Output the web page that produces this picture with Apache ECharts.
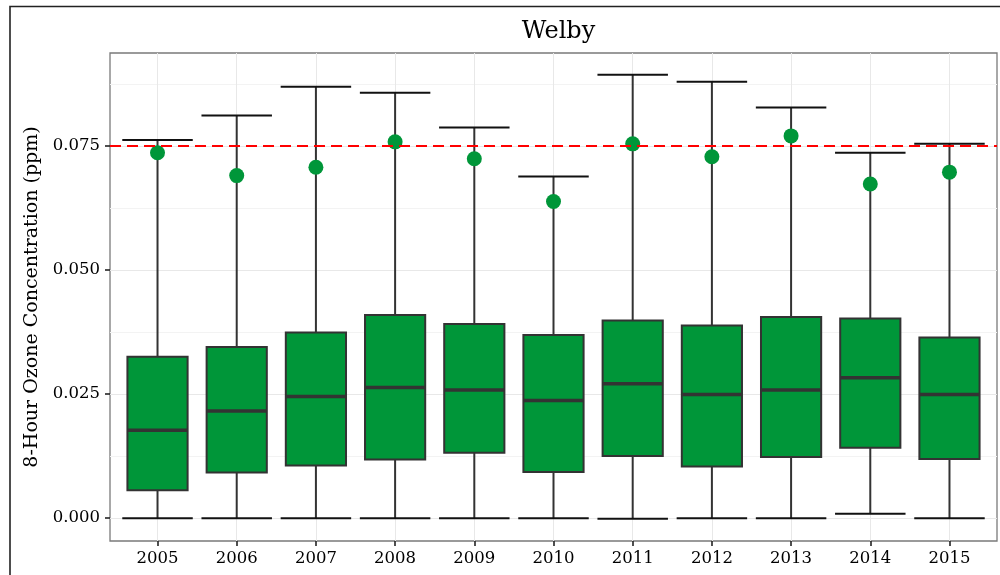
<!DOCTYPE html>
<html><head><meta charset="utf-8">
<script src="https://cdn.jsdelivr.net/npm/echarts@6/dist/echarts.min.js"></script>
<style>html,body{margin:0;padding:0;background:#fff}#c{width:1000px;height:575px}</style>
</head><body><div id="c"></div>
<script>
const years = ['2005','2006','2007','2008','2009','2010','2011','2012','2013','2014','2015'];
const whiskerLow  = [0, 0, 0, 0, 0, 0, -0.0001, 0, 0, 0.0009, 0];
const q1          = [0.0056, 0.0092, 0.0106, 0.0118, 0.0132, 0.0093, 0.0125, 0.0104, 0.0123, 0.0142, 0.0119];
const median      = [0.0177, 0.0216, 0.0245, 0.0263, 0.0258, 0.0237, 0.0271, 0.0249, 0.0258, 0.0283, 0.0249];
const q3          = [0.0325, 0.0345, 0.0374, 0.0409, 0.0391, 0.0369, 0.0398, 0.0388, 0.0405, 0.0402, 0.0364];
const whiskerHigh = [0.0762, 0.0811, 0.0869, 0.0857, 0.0787, 0.0688, 0.0893, 0.0879, 0.0827, 0.0736, 0.0754];
const dots        = [0.0736, 0.0690, 0.0707, 0.0758, 0.0724, 0.0638, 0.0754, 0.0728, 0.0770, 0.0673, 0.0697];
const standard = 0.075;
const yTicks = [0, 0.025, 0.05, 0.075];
const yMinorTicks = [0.0125, 0.0375, 0.0625, 0.0875];
const yMin = -0.0046, yMax = 0.0937;

const FONT = 'DejaVu Serif';
const GREEN = '#009639';
const idx = years.map((_, i) => i);

const chart = echarts.init(document.getElementById('c'), null, {renderer: 'canvas'});
chart.setOption({
  animation: false,
  backgroundColor: '#fff',
  title: {
    text: 'Welby', left: 553.5, top: 15, textAlign: 'center',
    textStyle: {fontFamily: FONT, fontSize: 24, fontWeight: 'normal', color: '#000'}
  },
  graphic: [{
    type: 'rect', shape: {x: 10, y: 6.5, width: 1000, height: 600},
    style: {fill: null, stroke: '#222', lineWidth: 1.6}, silent: true, z: 100
  }],
  grid: {left: 110, right: 3, top: 53, bottom: 34, show: true, borderColor: '#7a7a7a', borderWidth: 1.3, backgroundColor: 'transparent', containLabel: false},
  xAxis: {
    type: 'value', min: -0.6, max: 10.6,
    axisLine: {show: false, onZero: false},
    axisTick: {show: true, customValues: idx, length: 5, lineStyle: {color: '#222', width: 1.6}},
    axisLabel: {customValues: idx, formatter: v => years[Math.round(v)], margin: 9,
      fontFamily: FONT, fontSize: 16.5, color: '#000'},
    splitLine: {show: true, lineStyle: {color: '#e8e8e8', width: 1}}
  },
  yAxis: [{
    type: 'value', min: yMin, max: yMax,
    name: '8-Hour Ozone Concentration (ppm)', nameLocation: 'middle', nameGap: 62,
    nameTextStyle: {fontFamily: FONT, fontSize: 19, color: '#000'},
    axisLine: {show: false, onZero: false},
    axisTick: {show: true, customValues: yTicks, length: 5, lineStyle: {color: '#222', width: 1.6}},
    axisLabel: {customValues: yTicks, formatter: v => v.toFixed(3), margin: 10,
      fontFamily: FONT, fontSize: 16.5, color: '#000'},
    splitLine: {show: true, lineStyle: {color: '#e8e8e8', width: 1}}
  }, {
    type: 'value', min: yMin, max: yMax, position: 'left',
    axisLine: {show: false, onZero: false},
    axisTick: {show: false, customValues: yMinorTicks},
    axisLabel: {show: false, customValues: yMinorTicks},
    splitLine: {show: true, lineStyle: {color: '#f3f3f3', width: 1}}
  }],
  series: [{
    type: 'custom', z: 2,
    data: idx.map(i => [i, whiskerLow[i], q1[i], median[i], q3[i], whiskerHigh[i]]),
    encode: {x: 0, y: [1, 2, 3, 4, 5]},
    renderItem(params, api) {
      const i = api.value(0);
      const unit = api.size([1, 0])[0];
      const x = api.coord([i, 0])[0];
      const yLow = api.coord([i, api.value(1)])[1];
      const yQ1 = api.coord([i, api.value(2)])[1];
      const yMed = api.coord([i, api.value(3)])[1];
      const yQ3 = api.coord([i, api.value(4)])[1];
      const yHigh = api.coord([i, api.value(5)])[1];
      const bw = unit * 0.76, cw = unit * 0.89;
      const ws = {stroke: '#333', lineWidth: 2};
      const cs = {stroke: '#111', lineWidth: 2};
      return {type: 'group', children: [
        {type: 'line', shape: {x1: x, y1: yHigh, x2: x, y2: yQ3}, style: ws},
        {type: 'line', shape: {x1: x, y1: yQ1, x2: x, y2: yLow}, style: ws},
        {type: 'line', shape: {x1: x - cw / 2, y1: yHigh, x2: x + cw / 2, y2: yHigh}, style: cs},
        {type: 'line', shape: {x1: x - cw / 2, y1: yLow, x2: x + cw / 2, y2: yLow}, style: cs},
        {type: 'rect', shape: {x: x - bw / 2, y: yQ3, width: bw, height: yQ1 - yQ3},
          style: {fill: GREEN, stroke: '#333', lineWidth: 2}},
        {type: 'line', shape: {x1: x - bw / 2, y1: yMed, x2: x + bw / 2, y2: yMed},
          style: {stroke: '#333', lineWidth: 3.5}}
      ]};
    }
  }, {
    type: 'scatter', z: 3, data: [],
    markLine: {
      silent: true, symbol: 'none', animation: false, precision: 5,
      label: {show: false},
      lineStyle: {color: '#ff0000', type: [11, 6], width: 2},
      data: [{yAxis: standard}]
    }
  }, {
    type: 'scatter', z: 4,
    data: idx.map(i => [i, dots[i]]),
    symbol: 'circle', symbolSize: 15,
    itemStyle: {color: GREEN, opacity: 1}
  }]
});
</script>
</body></html>
